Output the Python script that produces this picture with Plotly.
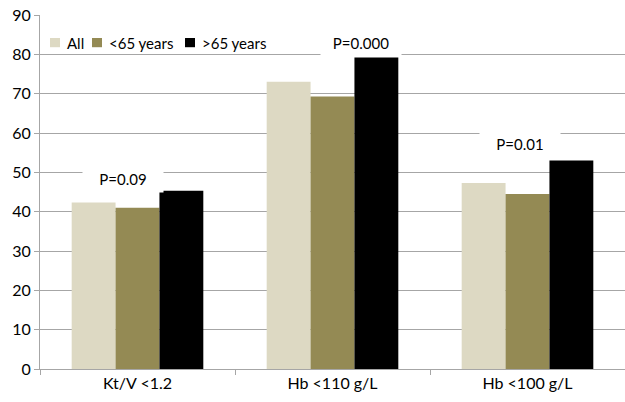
import plotly.graph_objects as go

categories = ["Kt/V <1.2", "Hb <110 g/L", "Hb <100 g/L"]
series_names = ["All", "<65 years", ">65 years"]
all_vals = [42.3, 73.0, 47.3]
under65_vals = [41.0, 69.3, 44.5]
over65_vals = [45.3, 79.2, 53.0]
p_labels = ["P=0.09", "P=0.000", "P=0.01"]
p_y = [48.2, 83.0, 57.1]
p_shift = [-15, 28, -8]
colors = ["#DDD9C3", "#948A54", "#000000"]

# legend layout (paper fractions of plot area)
leg_sq_x = [0.0171, 0.0889, 0.2479]
leg_tx_x = [0.0427, 0.1145, 0.2735]
leg_y0, leg_y1, leg_ty = 0.909, 0.935, 0.922

FONT = "Lato"

fig = go.Figure()
for name, vals, c in zip(series_names, [all_vals, under65_vals, over65_vals], colors):
    fig.add_trace(go.Bar(x=categories, y=vals, name=name, marker=dict(color=c, line=dict(width=0))))

for cat, lab, yv, sh in zip(categories, p_labels, p_y, p_shift):
    fig.add_annotation(x=cat, y=yv, text=lab, showarrow=False, xshift=sh,
                       font=dict(family=FONT, size=15, color="#000000"),
                       bgcolor="white", width=78, height=24)

sq_w = 0.0171
for name, c, sx, tx in zip(series_names, colors, leg_sq_x, leg_tx_x):
    fig.add_shape(type="rect", xref="paper", yref="paper", x0=sx, x1=sx + sq_w,
                  y0=leg_y0, y1=leg_y1, fillcolor=c, line=dict(width=0))
    fig.add_annotation(xref="paper", yref="paper", x=tx, y=leg_ty, text=name,
                       showarrow=False, xanchor="left", yanchor="middle",
                       font=dict(family=FONT, size=15, color="#000000"))

fig.update_layout(
    width=625, height=402,
    margin=dict(l=40, r=0, t=15, b=33),
    paper_bgcolor="white", plot_bgcolor="white",
    barmode="group", bargap=0.325, bargroupgap=0,
    font=dict(family=FONT, size=16, color="#000000"),
    showlegend=False,
)
fig.update_yaxes(range=[0, 90], dtick=10, showgrid=True, gridcolor="#A6A6A6", gridwidth=1,
                 showline=True, linecolor="#A6A6A6", linewidth=1, ticks="outside",
                 ticklen=5, tickcolor="#A6A6A6", zeroline=False, automargin=False,
                 tickfont=dict(size=16))
fig.update_xaxes(showline=True, linecolor="#A6A6A6", linewidth=1, ticks="outside",
                 tickson="boundaries", ticklen=5, tickcolor="#A6A6A6", automargin=False,
                 tickfont=dict(size=16))

fig.write_html("out.html", config={"displayModeBar": False},
               post_script="document.body.style.margin='0';document.body.style.overflow='hidden';")
